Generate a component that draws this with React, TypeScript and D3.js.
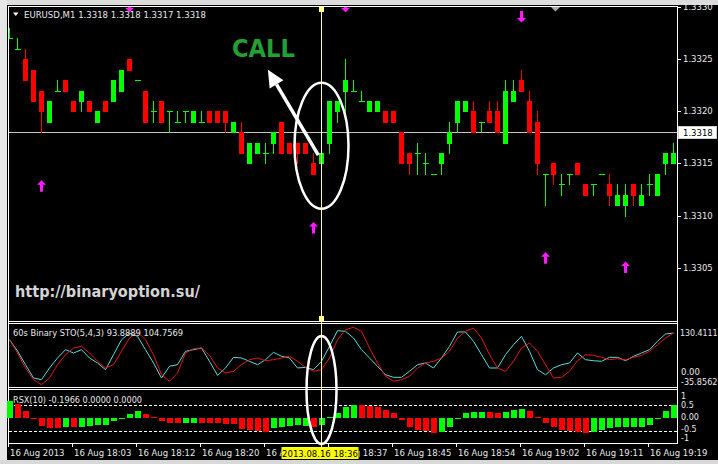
import React from "react";
import * as d3 from "d3";

const W = 718;
const H = 464;
const FONT = "'DejaVu Sans', Verdana, sans-serif";

const BULL = "#00ff00";
const BEAR = "#ff0000";
const SIGNAL = "#ff1aff";

// Header texts
const symbolTitle = "EURUSD,M1  1.3318 1.3318 1.3317 1.3318";
const stoTitle = "60s Binary STO(5,4,3) 93.8889 104.7569";
const rsxTitle = "RSX(10) -0.1966 0.0000 0.0000";
const siteUrl = "http://binaryoption.su/";
const callText = "CALL";

// EURUSD M1 bars (open / high / low / close)
const barOpen = [
  1.3327, 1.3326, 1.3325, 1.3324, 1.3322, 1.3319, 1.3322, 1.3323, 1.3321, 1.3321,
  1.3321, 1.3319, 1.3321, 1.3321, 1.3322, 1.3325, 1.3323, 1.3322, 1.332, 1.3321,
  1.332, 1.3319, 1.332, 1.3319, 1.3319, 1.332, 1.332, 1.332, 1.3318, 1.3318,
  1.3315, 1.3316, 1.3316, 1.3317, 1.3319, 1.3317, 1.3317, 1.3317, 1.3315, 1.3315,
  1.3317, 1.332, 1.3322, 1.3322, 1.3321, 1.332, 1.332, 1.332, 1.332, 1.3318,
  1.3316, 1.3316, 1.3315, 1.3314, 1.3315, 1.3317, 1.3319, 1.332, 1.332, 1.3319,
  1.332, 1.332, 1.3317, 1.3321, 1.3323, 1.3321, 1.3319, 1.3314, 1.3315, 1.3313,
  1.3314, 1.3315, 1.3313, 1.3313, 1.3314, 1.3313, 1.3311, 1.3311, 1.3313, 1.3311,
  1.3313, 1.3312, 1.3315, 1.3315,
];
const barHigh = [
  1.3328, 1.3327, 1.3326, 1.3324, 1.3322, 1.3321, 1.3323, 1.3323, 1.3321, 1.3322,
  1.3321, 1.332, 1.3321, 1.3323, 1.3324, 1.3325, 1.3323, 1.3322, 1.3321, 1.3321,
  1.332, 1.332, 1.332, 1.332, 1.332, 1.332, 1.332, 1.332, 1.3319, 1.3319,
  1.3317, 1.3317, 1.3317, 1.3318, 1.3319, 1.3317, 1.3317, 1.3317, 1.3316, 1.3316,
  1.3321, 1.3321, 1.3325, 1.3323, 1.3322, 1.3321, 1.3321, 1.332, 1.332, 1.3318,
  1.3316, 1.3317, 1.3316, 1.3314, 1.3316, 1.3319, 1.3321, 1.3321, 1.3321, 1.3319,
  1.3321, 1.3321, 1.3323, 1.3323, 1.3324, 1.3322, 1.332, 1.3314, 1.3315, 1.3314,
  1.3314, 1.3315, 1.3313, 1.3313, 1.3314, 1.3314, 1.3313, 1.3313, 1.3313, 1.3313,
  1.3314, 1.3314, 1.3316, 1.3317,
];
const barLow = [
  1.3327, 1.3326, 1.3323, 1.3321, 1.3318, 1.3319, 1.3322, 1.3322, 1.332, 1.332,
  1.332, 1.3319, 1.332, 1.3321, 1.3322, 1.3324, 1.3323, 1.3319, 1.3319, 1.3319,
  1.3318, 1.3319, 1.3319, 1.3319, 1.3319, 1.3319, 1.3319, 1.3318, 1.3318, 1.3316,
  1.3315, 1.3316, 1.3315, 1.3316, 1.3316, 1.3316, 1.3315, 1.3316, 1.3314, 1.3315,
  1.3316, 1.3319, 1.332, 1.3322, 1.3321, 1.332, 1.332, 1.3319, 1.3319, 1.3315,
  1.3314, 1.3314, 1.3314, 1.3314, 1.3314, 1.3316, 1.3318, 1.332, 1.3318, 1.3318,
  1.3319, 1.3318, 1.3317, 1.3321, 1.3322, 1.3318, 1.3314, 1.3311, 1.3313, 1.3312,
  1.3313, 1.3314, 1.3312, 1.3312, 1.3314, 1.3311, 1.3311, 1.331, 1.3311, 1.3311,
  1.3312, 1.3312, 1.3314, 1.3315,
];
const barClose = [
  1.3327, 1.3326, 1.3323, 1.3321, 1.332, 1.3321, 1.3322, 1.3322, 1.332, 1.3322,
  1.332, 1.332, 1.332, 1.3323, 1.3324, 1.3324, 1.3323, 1.3319, 1.332, 1.3319,
  1.332, 1.3319, 1.332, 1.332, 1.3319, 1.3319, 1.3319, 1.3319, 1.3319, 1.3316,
  1.3317, 1.3317, 1.3316, 1.3318, 1.3316, 1.3316, 1.3316, 1.3316, 1.3314, 1.3316,
  1.3321, 1.3321, 1.3323, 1.3322, 1.3321, 1.3321, 1.3321, 1.3319, 1.3319, 1.3315,
  1.3315, 1.3316, 1.3315, 1.3314, 1.3316, 1.3318, 1.3321, 1.3321, 1.3318, 1.3319,
  1.3319, 1.3318, 1.3322, 1.3322, 1.3322, 1.3318, 1.3315, 1.3314, 1.3314, 1.3313,
  1.3314, 1.3314, 1.3312, 1.3313, 1.3314, 1.3312, 1.3312, 1.3312, 1.3312, 1.3312,
  1.3313, 1.3314, 1.3316, 1.3316,
];

const lastPrice = 1.3318;
const priceTicks = [1.333, 1.3325, 1.332, 1.3315, 1.331, 1.3305];

// Time axis: label every 8 bars
const timeTickBars = [0, 8, 16, 24, 32, 40, 48, 56, 64, 72, 80];
const timeTickLabels = [
  "16 Aug 2013", "16 Aug 18:03", "16 Aug 18:12", "16 Aug 18:20", "16 Aug 18:28",
  "16 Aug 18:37", "16 Aug 18:45", "16 Aug 18:54", "16 Aug 19:02", "16 Aug 19:11",
  "16 Aug 19:19",
];
const cursorBar = 39;
const cursorLabel = "2013.08.16 18:36";

// Buy / sell signal arrows (bar index, price level)
const buyBars = [4, 38, 67, 77];
const buyLevels = [1.33128, 1.33088, 1.33059, 1.3305];
const sellBars = [15, 42, 64];
const sellLevels = [1.33301, 1.33301, 1.33291];

// 60s Binary STO(5,4,3)
const stoMax = 130.4111;
const stoMin = -35.8562;
const stoMain = [
  89.0, 59.1, 23.0, -12.1, -16.6, 14.3, 40.7, 62.6, 53.9, 62.6,
  40.7, 27.5, 9.8, 49.4, 89.0, 106.6, 97.9, 62.6, 27.5, -12.1,
  18.8, 23.0, 58.4, 62.6, 67.1, 32.0, -5.0, 14.3, 42.5, 40.7,
  32.0, 23.0, 36.2, 55.7, 45.2, 40.7, 14.3, 16.1, 9.8, 32.0,
  71.5, 112.7, 111.1, 93.5, 62.6, 40.7, 18.8, -3.4, -10.3, -10.3,
  5.6, 23.0, 27.5, 14.3, 40.7, 71.5, 109.3, 109.3, 84.7, 49.4,
  14.3, 14.3, 49.4, 75.8, 97.9, 58.4, 9.8, -3.4, 14.3, 23.0,
  27.5, 53.9, 36.2, 33.5, 32.0, 42.5, 42.5, 33.5, 45.2, 53.9,
  62.6, 84.7, 104.0, 106.6,
];
const stoSignal = [
  89.0, 53.9, 14.3, -16.6, -29.8, -12.1, 23.0, 49.4, 67.1, 71.5,
  53.9, 32.0, 14.3, 23.0, 58.4, 93.5, 109.3, 89.0, 49.4, -3.4,
  -20.8, 1.1, 53.9, 65.2, 67.1, 47.8, 14.3, 1.1, 5.6, 23.0,
  36.2, 40.7, 33.5, 36.2, 40.7, 45.2, 32.0, 16.1, 5.6, 9.8,
  40.7, 89.0, 115.4, 121.7, 111.1, 67.1, 27.5, -7.6, -20.8, -16.6,
  -7.6, 14.3, 27.5, 32.0, 40.7, 58.4, 93.5, 111.1, 119.8, 93.5,
  49.4, 14.3, 5.6, 32.0, 67.1, 80.3, 58.4, 23.0, -12.1, -10.3,
  5.6, 33.5, 49.4, 47.8, 42.5, 36.2, 38.8, 36.2, 42.5, 47.8,
  58.4, 75.8, 93.5, 106.6,
];

// RSX(10) histogram; G = rising bar, R = falling bar
const rsxValue = [
  0.65, 0.52, 0.25, -0.06, -0.31, -0.41, -0.41, -0.38, -0.38, -0.35,
  -0.31, -0.28, -0.28, -0.15, -0.02, 0.15, 0.25, 0.13, 0.02, -0.15,
  -0.22, -0.22, -0.22, -0.22, -0.22, -0.22, -0.22, -0.25, -0.25, -0.45,
  -0.48, -0.51, -0.54, -0.41, -0.35, -0.31, -0.28, -0.31, -0.38, -0.28,
  0.03, 0.17, 0.42, 0.49, 0.49, 0.46, 0.42, 0.29, 0.17, -0.09,
  -0.35, -0.47, -0.51, -0.58, -0.54, -0.35, -0.06, 0.17, 0.21, 0.21,
  0.21, 0.17, 0.23, 0.29, 0.33, 0.26, 0.02, -0.22, -0.38, -0.47,
  -0.51, -0.54, -0.58, -0.54, -0.47, -0.41, -0.38, -0.38, -0.38, -0.35,
  -0.28, -0.06, 0.26, 0.49,
];
const rsxTrend = (
  "GRRRRRRGRG" + "GGGGGGGRRR" + "RRGGRRRRRR" + "RRRGGGGGRG" + "GGGGRRRRRR" +
  "RRRRGGGGGG" + "RRGGGRRRRR" + "RRRGGGGGGG" + "GGGG"
).split("");
const rsxLevels = [0.5, -0.5];

function UpArrow({ cx, cy }: { cx: number; cy: number }) {
  const p = `M${cx},${cy - 6} L${cx + 4.5},${cy - 1.5} L${cx + 1.5},${cy - 1.5} L${cx + 1.5},${cy + 5.5} L${cx - 1.5},${cy + 5.5} L${cx - 1.5},${cy - 1.5} L${cx - 4.5},${cy - 1.5} Z`;
  return <path d={p} fill={SIGNAL} />;
}
function DownArrow({ cx, cy }: { cx: number; cy: number }) {
  const p = `M${cx},${cy + 6} L${cx + 4.5},${cy + 1.5} L${cx + 1.5},${cy + 1.5} L${cx + 1.5},${cy - 5.5} L${cx - 1.5},${cy - 5.5} L${cx - 1.5},${cy + 1.5} L${cx - 4.5},${cy + 1.5} Z`;
  return <path d={p} fill={SIGNAL} />;
}

export default function App() {
  const n = barOpen.length;
  const left = 8;
  const right = 677;
  const x = d3.scaleLinear().domain([0, n - 1]).range([9.5, 673.5]);
  const yP = d3.scaleLinear().domain([1.3305, 1.333]).range([267.6, 7.2]);
  const yS = d3.scaleLinear().domain([stoMin, stoMax]).range([387, 324]);
  const yR = d3.scaleLinear().domain([-1, 1.08]).range([443.5, 389.5]);
  const r = Math.round;

  const stoLine = d3
    .line<number>()
    .x((_, i) => x(i))
    .y((d) => yS(d));

  const cx = x(cursorBar);
  const cursorBoxLeft = cx - 40;
  const cursorBoxW = 77;

  // annotation geometry
  const tail: [number, number] = [x(38.6), yP(1.33158)];
  const tip: [number, number] = [x(32.3), yP(1.3324)];
  const dx = tip[0] - tail[0];
  const dy = tip[1] - tail[1];
  const len = Math.hypot(dx, dy);
  const ux = dx / len;
  const uy = dy / len;
  const headLen = 17;
  const headHalf = 8;
  const bx = tip[0] - ux * headLen;
  const by = tip[1] - uy * headLen;
  const head = `M${tip[0]},${tip[1]} L${bx - uy * headHalf},${by + ux * headHalf} L${bx + uy * headHalf},${by - ux * headHalf} Z`;

  const textCol = "#e8e8e8";
  const fs = 8.5;

  return (
    <div style={{ position: "absolute", left: 0, top: 0, width: W, height: H, overflow: "hidden" }}>
      <svg width={W} height={H} style={{ display: "block" }} fontFamily={FONT}>
        <defs>
          <clipPath id="mainClip">
            <rect x={left + 1} y={7} width={right - left - 1} height={314} />
          </clipPath>
          <clipPath id="stoClip">
            <rect x={left + 1} y={324} width={right - left - 1} height={63} />
          </clipPath>
          {/* axis labels are hidden under the cursor date box */}
          <clipPath id="timeClip">
            <rect x={0} y={444} width={cursorBoxLeft} height={16} />
            <rect x={cursorBoxLeft + cursorBoxW} y={444} width={W - cursorBoxLeft - cursorBoxW} height={16} />
          </clipPath>
        </defs>

        <rect width={W} height={H} fill="#000" />
        <rect x={0} y={0} width={W} height={5} fill="#dcdcdc" />
        <rect x={0} y={0} width={7} height={H} fill="#e6e6e6" />
        <rect x={0} y={460} width={W} height={4} fill="#d8d8d8" />

        {/* panel frames */}
        <g stroke="#ffffff" strokeWidth={1} shapeRendering="crispEdges">
          {[6.5, 321.5, 323.5, 387.5, 389.5, 443.5].map((yy) => (
            <line key={yy} x1={left} x2={right + 1} y1={yy} y2={yy} />
          ))}
          <line x1={left + 0.5} x2={left + 0.5} y1={6} y2={444} />
          <line x1={right + 0.5} x2={right + 0.5} y1={6} y2={444} />
        </g>

        {/* main price panel */}
        <g clipPath="url(#mainClip)">
          <line
            x1={left}
            x2={right}
            y1={r(yP(lastPrice)) + 0.5}
            y2={r(yP(lastPrice)) + 0.5}
            stroke="#c4c4c4"
            shapeRendering="crispEdges"
          />
          <g shapeRendering="crispEdges">
            {barOpen.map((o, i) => {
              const c = barClose[i];
              const col = c < o ? BEAR : BULL;
              const bx0 = x(i);
              const yTop = r(yP(Math.max(o, c)));
              const yBot = r(yP(Math.min(o, c)));
              return (
                <g key={i}>
                  <line
                    x1={bx0}
                    x2={bx0}
                    y1={r(yP(barHigh[i]))}
                    y2={r(yP(barLow[i])) + 1}
                    stroke={col}
                  />
                  {o === c ? (
                    <line x1={bx0 - 2.5} x2={bx0 + 3.5} y1={yTop + 0.5} y2={yTop + 0.5} stroke={col} />
                  ) : (
                    <rect x={bx0 - 2.5} y={yTop} width={5} height={yBot - yTop + 1} fill={col} />
                  )}
                </g>
              );
            })}
          </g>
          {buyBars.map((b, k) => (
            <UpArrow key={"u" + k} cx={x(b)} cy={yP(buyLevels[k])} />
          ))}
          {sellBars.map((b, k) => (
            <DownArrow key={"d" + k} cx={x(b)} cy={yP(sellLevels[k])} />
          ))}
          <path d="M550,6 L561,6 L555.5,11.5 Z" fill="#a8a8a8" />
        </g>

        {/* header of main panel */}
        <path d="M13,12.5 L18.5,12.5 L15.75,16 Z" fill="#ffffff" />
        <text x={24} y={15} dominantBaseline="central" fontSize={fs} fill={textCol} textLength={182} lengthAdjust="spacingAndGlyphs">
          {symbolTitle}
        </text>

        {/* site caption */}
        <text x={15} y={297} fontSize={16} fontWeight="bold" fill="#d4d4d4" textLength={185} lengthAdjust="spacingAndGlyphs">
          {siteUrl}
        </text>

        {/* price axis */}
        <g fontSize={fs} fill={textCol}>
          {priceTicks.map((p) => (
            <g key={p}>
              <line x1={right} x2={right + 4} y1={r(yP(p)) + 0.5} y2={r(yP(p)) + 0.5} stroke="#fff" shapeRendering="crispEdges" />
              <text x={683} y={yP(p)} dominantBaseline="central">
                {p.toFixed(4)}
              </text>
            </g>
          ))}
          <rect x={678.5} y={r(yP(lastPrice)) - 5.5} width={38} height={12} fill="#ffffff" stroke="#cfcfcf" />
          <text x={683} y={yP(lastPrice) + 0.5} dominantBaseline="central" fill="#000">
            {lastPrice.toFixed(4)}
          </text>
        </g>

        {/* stochastic panel */}
        <g clipPath="url(#stoClip)" fill="none" strokeWidth={1}>
          <path d={stoLine(stoMain) ?? ""} stroke="#5cdcdc" />
          <path d={stoLine(stoSignal) ?? ""} stroke="#e8141c" />
        </g>
        <text x={13} y={333} dominantBaseline="central" fontSize={fs} fill={textCol} textLength={170} lengthAdjust="spacingAndGlyphs">
          {stoTitle}
        </text>
        <g fontSize={fs} fill={textCol}>
          <text x={680} y={333.5} dominantBaseline="central" fontSize={8} textLength={37.5} lengthAdjust="spacingAndGlyphs">
            {stoMax.toFixed(4)}
          </text>
          <text x={681} y={yS(0) - 1} dominantBaseline="central">0.00</text>
          <text x={681} y={382} dominantBaseline="central" fontSize={8} textLength={36.5} lengthAdjust="spacingAndGlyphs">
            {stoMin.toFixed(4)}
          </text>
        </g>

        {/* RSX panel */}
        <g shapeRendering="crispEdges">
          {rsxLevels.map((lv) => (
            <line
              key={lv}
              x1={left + 1}
              x2={right}
              y1={r(yR(lv)) + 0.5}
              y2={r(yR(lv)) + 0.5}
              stroke="#ffffff"
              strokeDasharray="3,2"
            />
          ))}
          {rsxValue.map((v, i) => {
            const y0 = r(yR(0));
            const yv = r(yR(v));
            const top = Math.min(y0, yv);
            const h = Math.max(1, Math.abs(yv - y0));
            return (
              <rect
                key={i}
                x={x(i) - 2.5}
                y={top}
                width={6}
                height={h}
                fill={rsxTrend[i] === "G" ? BULL : BEAR}
              />
            );
          })}
        </g>
        <text x={13} y={399.5} dominantBaseline="central" fontSize={fs} fill={textCol} textLength={129} lengthAdjust="spacingAndGlyphs">
          {rsxTitle}
        </text>
        <g fontSize={8} fill={textCol}>
          <text x={681} y={yR(1) + 4.5} dominantBaseline="central">1</text>
          <text x={681} y={yR(0.5) + 0.5} dominantBaseline="central">0.5</text>
          <text x={681} y={yR(0) - 0.5} dominantBaseline="central">0.00</text>
          <text x={681} y={yR(-0.5) - 1.5} dominantBaseline="central">-0.5</text>
          <text x={681} y={yR(-1) - 5.5} dominantBaseline="central">-1</text>
        </g>

        {/* time axis */}
        <g fontSize={fs} fill={textCol}>
          {timeTickBars.map((b) => (
            <line key={b} x1={x(b) - 1} x2={x(b) - 1} y1={443} y2={447} stroke="#fff" shapeRendering="crispEdges" />
          ))}
          <g clipPath="url(#timeClip)">
            {timeTickBars.map((b, k) => (
              <text key={b} x={x(b) + 0.5} y={453} dominantBaseline="central">
                {timeTickLabels[k]}
              </text>
            ))}
          </g>
        </g>

        {/* crosshair cursor */}
        <line x1={cx} x2={cx} y1={6} y2={447} stroke="#ffff9a" strokeWidth={1} shapeRendering="crispEdges" />
        <rect x={cx - 2.5} y={7} width={5} height={5} fill="#ffff8a" />
        <rect x={cx - 2.5} y={316} width={5} height={5} fill="#ffff8a" />
        <rect x={cursorBoxLeft} y={447} width={cursorBoxW} height={12} fill="#ffff00" />
        <text x={cursorBoxLeft + cursorBoxW / 2} y={453.5} textAnchor="middle" dominantBaseline="central" fontSize={fs} fill="#000">
          {cursorLabel}
        </text>

        {/* annotations */}
        <ellipse cx={cx} cy={yP(1.33167)} rx={27} ry={63} fill="none" stroke="#ffffff" strokeWidth={2.5} />
        <ellipse cx={cx} cy={390} rx={15} ry={54} fill="none" stroke="#ffffff" strokeWidth={2.5} />
        <line x1={tail[0]} y1={tail[1]} x2={bx} y2={by} stroke="#ffffff" strokeWidth={3.5} />
        <path d={head} fill="#ffffff" />
        <text
          x={x(27.8)}
          y={yP(1.33252)}
          fontSize={25}
          fontWeight="bold"
          fill="#23a032"
          textLength={63}
          lengthAdjust="spacingAndGlyphs"
        >
          {callText}
        </text>
      </svg>
    </div>
  );
}
